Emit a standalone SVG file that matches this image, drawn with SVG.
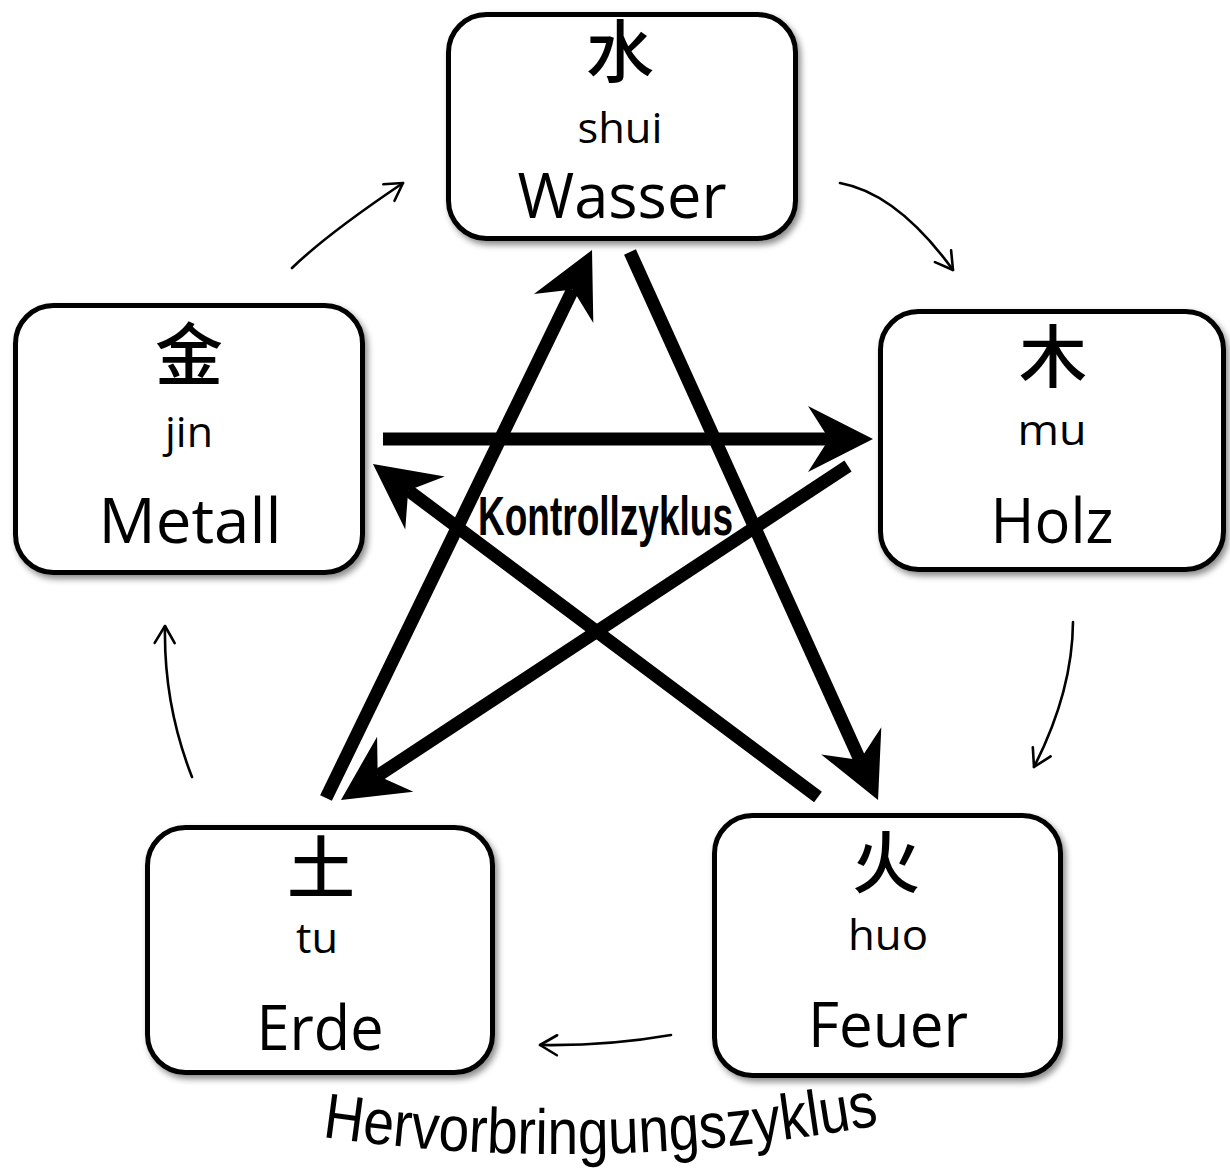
<svg xmlns="http://www.w3.org/2000/svg" width="1230" height="1171" viewBox="0 0 1230 1171">
  <style>
    .box { fill: #fff; stroke: #000; stroke-width: 5; filter: url(#shadow); }
    .cjk { font-family: "Noto Sans CJK SC", "Noto Sans CJK JP", sans-serif; font-size: 68px; font-weight: 500; text-anchor: middle; fill: #000; }
    .pin { font-family: "Open Sans", "Noto Sans", sans-serif; font-size: 42px; text-anchor: middle; fill: #000; }
    .name { font-family: "Open Sans", "Noto Sans", sans-serif; font-size: 63px; text-anchor: middle; fill: #000; }
    .thick { stroke: #000; stroke-width: 13; fill: none; marker-end: url(#bigHead); }
    .thin { stroke: #000; stroke-width: 2.6; fill: none; stroke-linecap: round; marker-end: url(#thinHead); }
    .label { font-family: "Liberation Sans", Arial, sans-serif; fill: #000; }
  </style>
  <defs>
    <filter id="shadow" x="-10%" y="-10%" width="125%" height="130%">
      <feDropShadow dx="3" dy="4" stdDeviation="3" flood-color="#000" flood-opacity="0.45"/>
    </filter>
    <marker id="bigHead" markerUnits="userSpaceOnUse" viewBox="-30 -40 80 80" markerWidth="80" markerHeight="80" refX="0" refY="0" orient="auto" overflow="visible">
      <path d="M44,0 L-21,-33 L0,0 L-21,33 Z" fill="#000"/>
    </marker>
    <marker id="thinHead" markerUnits="userSpaceOnUse" viewBox="-22 -14 26 28" markerWidth="26" markerHeight="28" refX="0" refY="0" orient="auto" overflow="visible">
      <path d="M-17,-10 L0,0 L-17,10" fill="none" stroke="#000" stroke-width="2.6" stroke-linecap="round" stroke-linejoin="round"/>
    </marker>
    <path id="arcText" d="M322,1137 Q600,1177 884,1124"/>
  </defs>

  <rect width="1230" height="1171" fill="#fff"/>

  <!-- connectors: generating cycle (thin) and control cycle (thick) -->
  <g id="connectors">
    <path class="thin" d="M292,268 Q326.5,234.5 403,183"/>
    <path class="thin" d="M840,183 Q897.5,193.5 953,270"/>
    <path class="thin" d="M1073,622 Q1072.5,691.5 1034,767"/>
    <path class="thin" d="M671,1035 Q608.5,1046 540,1045"/>
    <path class="thin" d="M192,777 Q163.5,704.5 165,626"/>

    <line class="thick" x1="383" y1="439" x2="829" y2="439"/>
    <line class="thick" x1="326" y1="798" x2="572.8" y2="289.6"/>
    <line class="thick" x1="630" y1="252" x2="859.9" y2="759.9"/>
    <line class="thick" x1="818" y1="797" x2="408.2" y2="490.4"/>
    <line class="thick" x1="848" y1="466" x2="377.7" y2="775.8"/>
  </g>

  <g id="water">
    <rect class="box" x="448.5" y="14.5" width="347" height="224" rx="38"/>
    <text class="cjk" x="620" y="77">水</text>
    <text class="pin" x="620" y="143" textLength="85" lengthAdjust="spacingAndGlyphs">shui</text>
    <text class="name" x="622" y="218" textLength="209" lengthAdjust="spacingAndGlyphs">Wasser</text>
  </g>

  <g id="metal">
    <rect class="box" x="15.5" y="305.5" width="347" height="267" rx="38"/>
    <text class="cjk" x="189" y="380">金</text>
    <text class="pin" x="189" y="447" textLength="48" lengthAdjust="spacingAndGlyphs">jin</text>
    <text class="name" x="190" y="543" textLength="183" lengthAdjust="spacingAndGlyphs">Metall</text>
  </g>

  <g id="wood">
    <rect class="box" x="880.5" y="311.5" width="343" height="258" rx="38"/>
    <text class="cjk" x="1053" y="382">木</text>
    <text class="pin" x="1052" y="445" textLength="69" lengthAdjust="spacingAndGlyphs">mu</text>
    <text class="name" x="1052" y="543" textLength="123" lengthAdjust="spacingAndGlyphs">Holz</text>
  </g>

  <g id="earth">
    <rect class="box" x="147.5" y="827.5" width="345" height="245" rx="38"/>
    <text class="cjk" x="321" y="893">土</text>
    <text class="pin" x="317" y="953" textLength="42" lengthAdjust="spacingAndGlyphs">tu</text>
    <text class="name" x="320" y="1050" textLength="127" lengthAdjust="spacingAndGlyphs">Erde</text>
  </g>

  <g id="fire">
    <rect class="box" x="714.5" y="815.5" width="346" height="260" rx="38"/>
    <text class="cjk" x="886" y="888">火</text>
    <text class="pin" x="888" y="950" textLength="80" lengthAdjust="spacingAndGlyphs">huo</text>
    <text class="name" x="888" y="1047" textLength="160" lengthAdjust="spacingAndGlyphs">Feuer</text>
  </g>

  <g id="labels">
    <text class="label" x="478" y="535" font-size="55" font-weight="bold" textLength="255" lengthAdjust="spacingAndGlyphs">Kontrollzyklus</text>
    <text class="label" font-size="64">
      <textPath href="#arcText" textLength="560" lengthAdjust="spacingAndGlyphs">Hervorbringungszyklus</textPath>
    </text>
  </g>
</svg>
